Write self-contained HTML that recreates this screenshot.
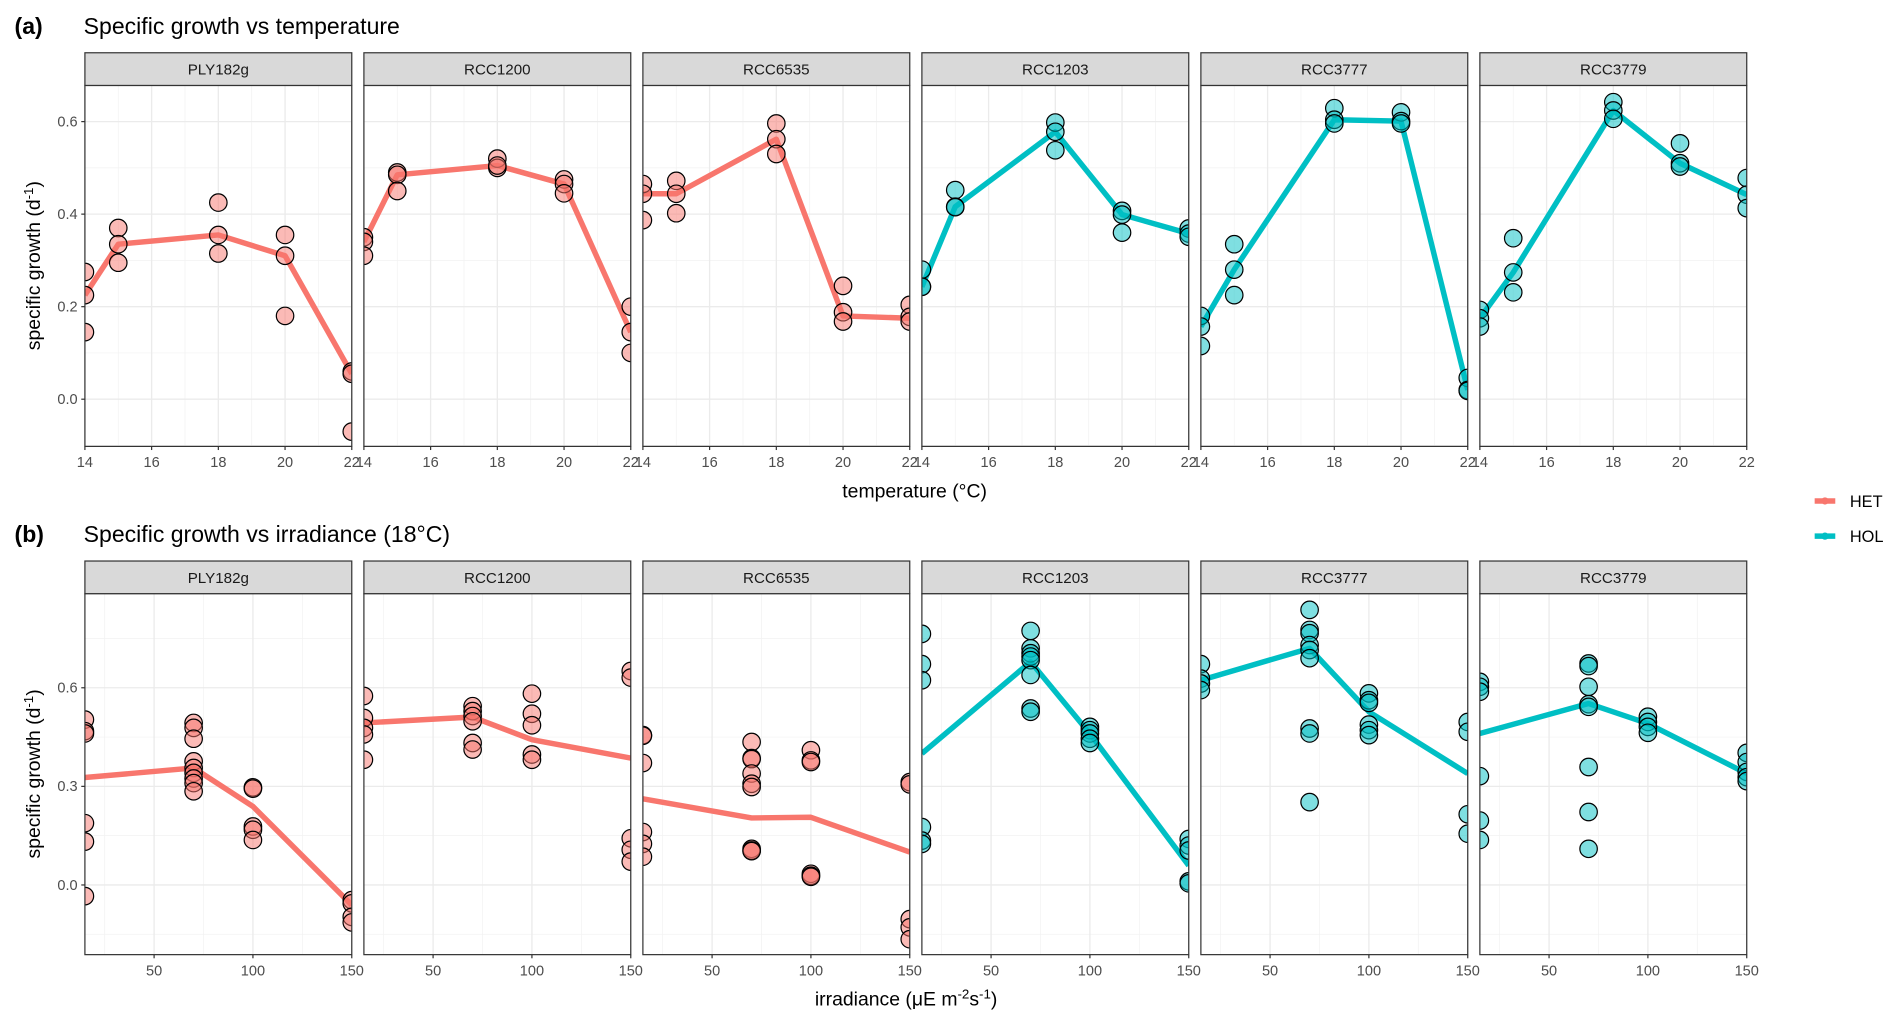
<!DOCTYPE html>
<html><head><meta charset="utf-8"><style>
html,body{margin:0;padding:0;background:#fff;}
svg{display:block;font-family:"Liberation Sans",sans-serif;}
</style></head><body>
<svg id="chart" width="1902" height="1025" viewBox="0 0 1568 845" preserveAspectRatio="none" xmlns="http://www.w3.org/2000/svg">
<text x="12" y="28" font-size="19" font-weight="bold">(a)</text>
<text x="69" y="28" font-size="19">Specific growth vs temperature</text>
<text x="12" y="447" font-size="19" font-weight="bold">(b)</text>
<text x="69" y="447" font-size="19">Specific growth vs irradiance (18°C)</text>
<text x="754" y="410" font-size="16" text-anchor="middle">temperature (°C)</text>
<text x="747" y="829" font-size="16" text-anchor="middle">irradiance (μE m<tspan dy="-6" font-size="11">-2</tspan><tspan dy="6">s</tspan><tspan dy="-6" font-size="11">-1</tspan><tspan dy="6">)</tspan></text>
<text transform="translate(33,219) rotate(-90)" font-size="16" text-anchor="middle">specific growth (d<tspan dy="-6" font-size="11">-1</tspan><tspan dy="6">)</tspan></text>
<text transform="translate(33,638) rotate(-90)" font-size="16" text-anchor="middle">specific growth (d<tspan dy="-6" font-size="11">-1</tspan><tspan dy="6">)</tspan></text>
<g>
<line x1="1496" y1="413" x2="1513" y2="413" stroke="#F8766D" stroke-width="4.5"/>
<circle cx="1504.5" cy="413" r="3" fill="#F8766D"/>
<text x="1525" y="418" font-size="13.5">HET</text>
<line x1="1496" y1="442" x2="1513" y2="442" stroke="#00BFC4" stroke-width="4.5"/>
<circle cx="1504.5" cy="442" r="3" fill="#00BFC4"/>
<text x="1525" y="447" font-size="13.5">HOL</text>
</g>
</svg>
<script>
const strains = ["PLY182g","RCC1200","RCC6535","RCC1203","RCC3777","RCC3779"];
const groups = ["HET","HET","HET","HOL","HOL","HOL"];
const tempX = [14,15,18,20,22];
const tempPoints = [
 [[0.275,0.225,0.145],[0.37,0.335,0.295],[0.425,0.355,0.315],[0.355,0.31,0.18],[0.06,0.055,-0.07]],
 [[0.35,0.34,0.31],[0.49,0.485,0.45],[0.52,0.5,0.505],[0.475,0.465,0.445],[0.2,0.145,0.1]],
 [[0.465,0.444,0.387],[0.472,0.444,0.402],[0.596,0.562,0.53],[0.245,0.188,0.168],[0.204,0.178,0.168]],
 [[0.28,0.243,0.243],[0.452,0.416,0.415],[0.598,0.578,0.538],[0.407,0.399,0.36],[0.369,0.358,0.351]],
 [[0.18,0.157,0.115],[0.335,0.28,0.225],[0.629,0.604,0.596],[0.62,0.601,0.596],[0.046,0.02,0.018]],
 [[0.193,0.175,0.157],[0.348,0.274,0.231],[0.642,0.624,0.606],[0.553,0.51,0.503],[0.478,0.442,0.413]]
];
const tempLine = [
 [0.225,0.335,0.355,0.31,0.055],
 [0.34,0.485,0.505,0.465,0.145],
 [0.444,0.444,0.562,0.18,0.175],
 [0.243,0.416,0.578,0.399,0.358],
 [0.157,0.28,0.604,0.601,0.02],
 [0.175,0.274,0.624,0.51,0.442]
];
const irrX = [15,70,100,150];
const irrPoints = [
 [[0.503,0.468,0.461,0.188,0.132,-0.034],[0.493,0.478,0.445,0.376,0.356,0.341,0.324,0.31,0.285],[0.297,0.293,0.178,0.168,0.137],[-0.046,-0.056,-0.097,-0.114]],
 [[0.575,0.508,0.478,0.458,0.381],[0.544,0.529,0.514,0.498,0.432,0.412],[0.582,0.521,0.486,0.397,0.381],[0.651,0.631,0.142,0.107,0.071]],
 [[0.456,0.454,0.371,0.161,0.125,0.086],[0.435,0.386,0.383,0.339,0.308,0.298,0.11,0.105,0.103],[0.41,0.379,0.374,0.034,0.028,0.025],[0.313,0.306,-0.104,-0.129,-0.165]],
 [[0.764,0.672,0.623,0.176,0.135,0.125],[0.773,0.72,0.705,0.695,0.684,0.639,0.537,0.527],[0.481,0.471,0.461,0.445,0.432],[0.14,0.12,0.105,0.011,0.005]],
 [[0.672,0.628,0.613,0.593],[0.837,0.776,0.766,0.73,0.715,0.69,0.476,0.461,0.252],[0.583,0.562,0.554,0.488,0.471,0.456],[0.496,0.466,0.215,0.156]],
 [[0.618,0.603,0.588,0.331,0.196,0.137],[0.674,0.666,0.603,0.55,0.542,0.359,0.222,0.11],[0.512,0.496,0.481,0.463],[0.402,0.374,0.344,0.328,0.316]]
];
const irrLine = [
 [0.327,0.356,0.239,-0.061],
 [0.493,0.511,0.442,0.386],
 [0.262,0.204,0.206,0.1],
 [0.4,0.679,0.46,0.059],
 [0.623,0.72,0.527,0.339],
 [0.461,0.552,0.491,0.339]
];
const tempTicks = [14,16,18,20,22];
const tempMinor = [15,17,19,21];
const tempYTicks = [0.0,0.2,0.4,0.6];
const tempYMinor = [-0.1,0.1,0.3,0.5];
const irrTicks = [50,100,150];
const irrMinor = [25,75,125];
const irrYTicks = [0.0,0.3,0.6];
const irrYMinor = [-0.15,0.15,0.45,0.75];

const NS = "http://www.w3.org/2000/svg";
const svg = document.getElementById("chart");
const COLORS = {HET:"#F8766D", HOL:"#00BFC4"};
function mk(tag, attrs, parent){
  const e = document.createElementNS(NS, tag);
  for (const k in attrs) e.setAttribute(k, attrs[k]);
  (parent||svg).appendChild(e);
  return e;
}
function drawRow(cfg){
  for (let i=0;i<strains.length;i++){
    const px = 70 + i*230, pw = 220;
    const xs = v => px + (v - cfg.xmin)/(cfg.xmax - cfg.xmin)*pw;
    const ys = v => cfg.y0 + (cfg.ymax - v)/(cfg.ymax - cfg.ymin)*cfg.h;
    const g = mk("g", {});
    
    
    const strip = mk("rect", {x:px, y:cfg.y0-27, width:pw, height:27, fill:"#d9d9d9", stroke:"#333", "stroke-width":1}, g);
    
    
    const st = mk("text", {x:px+pw/2, y:cfg.y0-9, "font-size":12.5, "text-anchor":"middle", fill:"#1a1a1a"}, g);
    st.textContent = strains[i];
    
    
    const bg = mk("rect", {x:px, y:cfg.y0, width:pw, height:cfg.h, fill:"#fff"}, g);
    
    
    cfg.xMinor.forEach(v=>{ const l=mk("line",{x1:xs(v),x2:xs(v),y1:cfg.y0,y2:cfg.y0+cfg.h,stroke:"#f2f2f2","stroke-width":0.6},g);
        });
    cfg.yMinor.forEach(v=>{ const l=mk("line",{x1:px,x2:px+pw,y1:ys(v),y2:ys(v),stroke:"#f2f2f2","stroke-width":0.6},g);
        });
    cfg.xTicks.forEach(v=>{ const l=mk("line",{x1:xs(v),x2:xs(v),y1:cfg.y0,y2:cfg.y0+cfg.h,stroke:"#ebebeb","stroke-width":1.1},g);
        });
    cfg.yTicks.forEach(v=>{ const l=mk("line",{x1:px,x2:px+pw,y1:ys(v),y2:ys(v),stroke:"#ebebeb","stroke-width":1.1},g);
        });
    const cid = "clip-" + cfg.key + i;
    const cp = mk("clipPath", {id:cid}, g);
    mk("rect", {x:px, y:cfg.y0, width:pw, height:cfg.h}, cp);
    const data = mk("g", {"clip-path":"url(#"+cid+")"}, g);
    const col = COLORS[groups[i]];
    const pts = cfg.lines[i].map((v,j)=> xs(cfg.xv[j]) + "," + ys(v)).join(" ");
    const pl = mk("polyline", {points:pts, fill:"none", stroke:col, "stroke-width":4.5, "stroke-linejoin":"round"}, data);
    
    
    cfg.points[i].forEach((arr,j)=>{
      arr.forEach(v=>{
        const c = mk("circle", {cx:xs(cfg.xv[j]), cy:ys(v), r:7.2, fill:col, "fill-opacity":0.5, stroke:"#000", "stroke-width":1}, data);
        
        
      });
    });
    const fr = mk("rect", {x:px, y:cfg.y0, width:pw, height:cfg.h, fill:"none", stroke:"#333", "stroke-width":1}, g);
    
    
    cfg.xTicks.forEach(v=>{
      const tk = mk("line",{x1:xs(v),x2:xs(v),y1:cfg.y0+cfg.h,y2:cfg.y0+cfg.h+3,stroke:"#333","stroke-width":1},g);
       
      const t = mk("text",{x:xs(v),y:cfg.y0+cfg.h+17,"font-size":12,"text-anchor":"middle",fill:"#4d4d4d"},g);
      t.textContent = v;
       
    });
    if (i===0){
      cfg.yTicks.forEach(v=>{
        const tk = mk("line",{x1:px-3,x2:px,y1:ys(v),y2:ys(v),stroke:"#333","stroke-width":1},g);
         
        const t = mk("text",{x:px-6,y:ys(v)+4,"font-size":12,"text-anchor":"end",fill:"#4d4d4d"},g);
        t.textContent = v.toFixed(1);
         
      });
    }
  }
}
drawRow({key:"temp", y0:70.5, h:297.5, xmin:14, xmax:22, ymin:-0.102, ymax:0.678,
  xv:tempX, points:tempPoints, lines:tempLine, xTicks:tempTicks, xMinor:tempMinor, yTicks:tempYTicks, yMinor:tempYMinor});
drawRow({key:"irr", y0:489.5, h:297.5, xmin:15, xmax:150, ymin:-0.212, ymax:0.886,
  xv:irrX, points:irrPoints, lines:irrLine, xTicks:irrTicks, xMinor:irrMinor, yTicks:irrYTicks, yMinor:irrYMinor});
</script>
</body></html>
